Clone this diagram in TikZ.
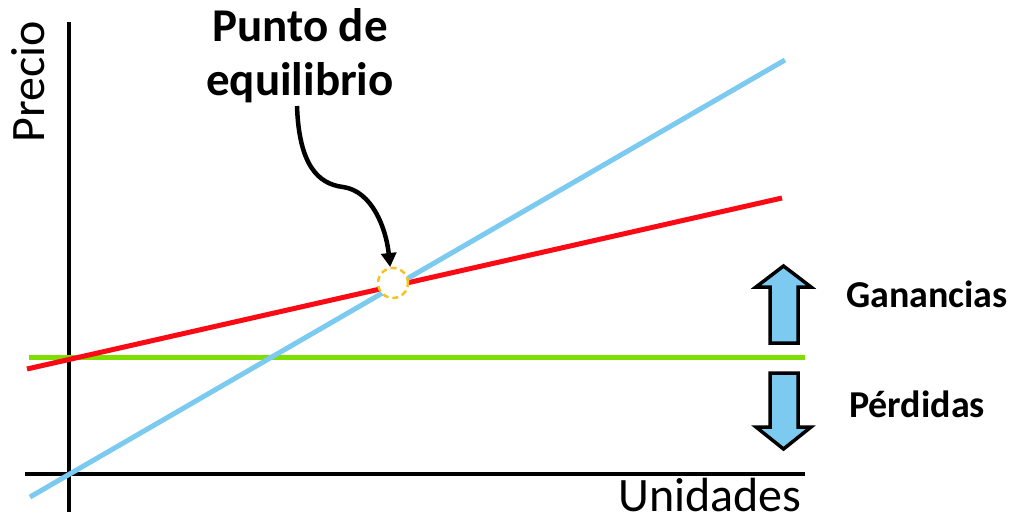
\documentclass[tikz,border=0pt]{standalone}
\usepackage{fontspec}
\setmainfont{Carlito}
\usetikzlibrary{arrows.meta}
\definecolor{lblue}{RGB}{125,202,240}
\definecolor{lred}{RGB}{250,10,20}
\definecolor{lgreen}{RGB}{125,222,0}
\definecolor{dyellow}{RGB}{245,195,30}
\begin{document}
\begin{tikzpicture}[x=1pt,y=-1pt,
  axisline/.style={line width=4pt,black},
  costline/.style={line width=5pt,color=#1},
  blockarrow/.style={draw=black,line width=3.5pt,fill=lblue,line join=miter},
  bigtext/.style={font=\fontsize{48}{48}\selectfont,inner sep=0pt,anchor=base},
  boldtext/.style={font=\bfseries\fontsize{#1}{#1}\selectfont,inner sep=0pt,anchor=base},
  eqcircle/.style={circle,draw=dyellow,dashed,dash pattern=on 6pt off 4pt,line width=2.5pt,fill=white,minimum size=30pt,inner sep=0pt},
  curvearrow/.style={line width=4.5pt,black,-{Triangle[length=14pt,width=15pt]}}]
\useasboundingbox (0,0) rectangle (1012,519);
% axes
\coordinate (yaxtop) at (69,22);
\coordinate (yaxbot) at (69,512);
\coordinate (xaxl) at (25,474);
\coordinate (xaxr) at (805,474);
\draw[axisline] (yaxtop) -- (yaxbot);
\draw[axisline] (xaxl) -- (xaxr);
% lines
\coordinate (gl) at (29,357);
\coordinate (gr) at (805,357);
\coordinate (rl) at (27,369);
\coordinate (rr) at (782,198);
\coordinate (bl) at (30,497);
\coordinate (br) at (785,60);
\draw[costline=lgreen] (gl) -- (gr);
\draw[costline=lred] (rl) -- (rr);
\draw[costline=lblue] (bl) -- (br);
% equilibrium
\node[eqcircle] (eq) at (393,283) {};
\node[font=\bfseries\fontsize{47}{54}\selectfont, inner sep=0pt, align=center, anchor=north] (eqlabel) at (300,8) {Punto de\\equilibrio};
\coordinate (arrstart) at (297,106);
\draw[curvearrow] (arrstart) .. controls (299,165) and (318,184) .. (343,187)
  .. controls (372,191) and (386,228) .. (eq.100);
% axis labels
\node[bigtext, rotate=90] (precio) at (44,82) {Precio};
\node[bigtext] (unidades) at (710,511) {Unidades};
% block arrows
\draw[blockarrow] (783.5,266) -- (811,287) -- (798,287) -- (798,343) -- (770,343) -- (770,287) -- (756,287) -- cycle;
\draw[blockarrow] (783.5,449) -- (811,427) -- (798,427) -- (798,373) -- (770,373) -- (770,427) -- (756,427) -- cycle;
\node[boldtext=38] (gan) at (927,307) {Ganancias};
\node[boldtext=38] (per) at (917,417) {Pérdidas};
\end{tikzpicture}
\end{document}
